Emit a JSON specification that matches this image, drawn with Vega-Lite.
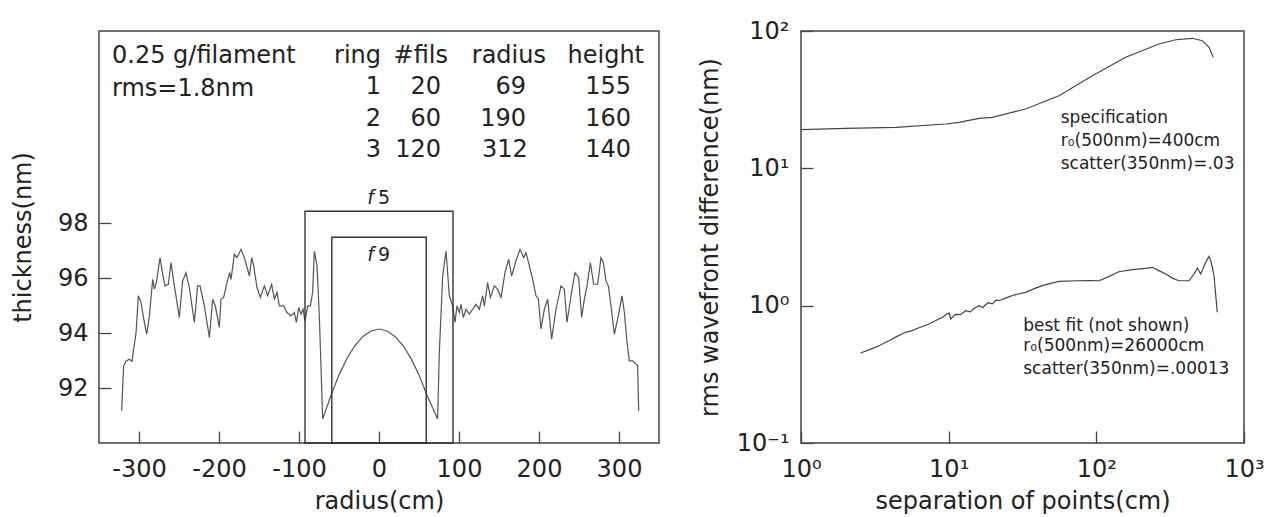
{
  "$schema": "https://vega.github.io/schema/vega-lite/v6.json",
  "background": "white",
  "padding": {"left": 10, "top": 18, "right": 5, "bottom": 5},
  "spacing": 37,
  "config": {
    "font": "DejaVu Sans",
    "view": {"stroke": "#444", "strokeWidth": 1.5},
    "axis": {
      "domain": false, "grid": false, "tickSize": -12, "tickColor": "#444", "tickWidth": 1.3,
      "labelFont": "DejaVu Sans", "labelFontSize": 24, "labelColor": "#222", "labelFlush": false, "labelOverlap": false,
      "titleFont": "DejaVu Sans", "titleFontSize": 24, "titleFontWeight": "normal", "titleColor": "#222"
    },
    "axisX": {"labelPadding": 26, "titlePadding": 8},
    "axisY": {"labelPadding": 23, "titlePadding": 22}
  },
  "hconcat": [
    {
      "width": 560,
      "height": 412,
      "layer": [
        {
          "data": {"values": [
            {"x":-321.7,"y":91.17},{"x":-319.2,"y":92.81},{"x":-316,"y":92.99},{"x":-312,"y":93.05},{"x":-308.7,"y":92.97},{"x":-306.7,"y":93.42},{"x":-303.7,"y":94.02},{"x":-300.8,"y":95.36},{"x":-297.5,"y":95.12},{"x":-294,"y":94.5},{"x":-290.4,"y":93.96},{"x":-287,"y":94.63},{"x":-282.9,"y":95.96},{"x":-280.8,"y":95.6},{"x":-278.3,"y":95.84},{"x":-273.7,"y":96.75},{"x":-270.4,"y":96.15},{"x":-267.5,"y":95.72},{"x":-263.3,"y":95.78},{"x":-260,"y":96.57},{"x":-255.8,"y":95.72},{"x":-249.6,"y":94.57},{"x":-245.4,"y":95.9},{"x":-241.3,"y":96.2},{"x":-237.1,"y":95.66},{"x":-230.8,"y":94.39},{"x":-226.7,"y":95.72},{"x":-223.7,"y":95.72},{"x":-218.3,"y":94.99},{"x":-212,"y":93.84},{"x":-207.9,"y":95.24},{"x":-204.6,"y":94.99},{"x":-199.6,"y":94.21},{"x":-197.5,"y":95.24},{"x":-194.2,"y":95.3},{"x":-190,"y":95.84},{"x":-186.7,"y":96.2},{"x":-185,"y":95.96},{"x":-180.8,"y":96.87},{"x":-177.5,"y":96.75},{"x":-172.5,"y":97.05},{"x":-168.3,"y":96.75},{"x":-162,"y":96.08},{"x":-159.1,"y":96.75},{"x":-156.6,"y":96.45},{"x":-152.5,"y":95.66},{"x":-148.3,"y":95.3},{"x":-143.3,"y":95.72},{"x":-139.2,"y":95.36},{"x":-134.2,"y":95.78},{"x":-130.8,"y":95.24},{"x":-127.5,"y":95.48},{"x":-124.6,"y":94.99},{"x":-119.2,"y":94.99},{"x":-115,"y":94.75},{"x":-110,"y":94.63},{"x":-105.8,"y":94.75},{"x":-103.3,"y":94.39},{"x":-100.4,"y":94.93},{"x":-97.5,"y":94.69},{"x":-95,"y":94.87},{"x":-92.5,"y":94.45},{"x":-89.2,"y":94.99},{"x":-85.8,"y":94.99},{"x":-83,"y":95.48},{"x":-80.8,"y":96.99},{"x":-77.5,"y":96.45},{"x":-74.6,"y":94.63},{"x":-70.4,"y":90.87},{"x":-60,"y":91.74},{"x":-50,"y":92.48},{"x":-40,"y":93.08},{"x":-30,"y":93.55},{"x":-20,"y":93.88},{"x":-10,"y":94.08},{"x":0,"y":94.15},{"x":10,"y":94.08},{"x":20,"y":93.88},{"x":30,"y":93.55},{"x":40,"y":93.08},{"x":50,"y":92.48},{"x":60,"y":91.74},{"x":73.3,"y":90.87},{"x":75.4,"y":93.3},{"x":79.6,"y":96.08},{"x":83.75,"y":96.99},{"x":87.9,"y":95.36},{"x":92.1,"y":94.99},{"x":95,"y":94.39},{"x":97.5,"y":94.99},{"x":100.4,"y":94.75},{"x":102.5,"y":95.05},{"x":105.4,"y":94.57},{"x":108.75,"y":94.87},{"x":112.9,"y":94.69},{"x":117.1,"y":94.87},{"x":121.25,"y":95.05},{"x":125.4,"y":94.87},{"x":129.6,"y":95.36},{"x":131.7,"y":94.99},{"x":135.8,"y":95.84},{"x":139.2,"y":95.3},{"x":144.2,"y":95.72},{"x":148.3,"y":95.6},{"x":152.5,"y":95.3},{"x":157.5,"y":96.2},{"x":162.1,"y":96.69},{"x":165.8,"y":96.08},{"x":171.25,"y":96.63},{"x":176.25,"y":97.05},{"x":180.8,"y":96.75},{"x":183.75,"y":96.93},{"x":187.9,"y":96.45},{"x":192.1,"y":95.96},{"x":196.25,"y":95.36},{"x":199.2,"y":95.24},{"x":202.5,"y":94.15},{"x":206.7,"y":94.87},{"x":210.8,"y":95.24},{"x":215.8,"y":93.78},{"x":221.25,"y":94.87},{"x":227.5,"y":95.72},{"x":231.7,"y":95.6},{"x":235,"y":94.39},{"x":240,"y":95.36},{"x":245,"y":96.2},{"x":249.6,"y":96.02},{"x":253.3,"y":94.57},{"x":256.7,"y":95.24},{"x":260,"y":95.72},{"x":264.2,"y":96.57},{"x":268.3,"y":95.78},{"x":273.3,"y":95.78},{"x":277.5,"y":96.75},{"x":280.4,"y":96.57},{"x":283.75,"y":95.9},{"x":286.7,"y":95.72},{"x":290,"y":94.99},{"x":294.2,"y":93.96},{"x":298.3,"y":94.5},{"x":303.75,"y":95.36},{"x":306.7,"y":94.75},{"x":310,"y":93.66},{"x":312.9,"y":92.99},{"x":317.1,"y":92.99},{"x":321.25,"y":92.87},{"x":323.3,"y":92.81},{"x":324.6,"y":91.17}
          ]},
          "mark": {"type": "line", "color": "#555", "strokeWidth": 1.2},
          "encoding": {
            "x": {"field": "x", "type": "quantitative", "scale": {"domain": [-350, 350], "nice": false, "zero": false},
                  "axis": {"values": [-300, -200, -100, 0, 100, 200, 300],
                           "labelExpr": "(datum.value < 0 ? '-' : '') + abs(datum.value)"}, "title": "radius(cm)"},
            "y": {"field": "y", "type": "quantitative", "scale": {"domain": [90, 105], "nice": false, "zero": false},
                  "axis": {"values": [92, 94, 96, 98]}, "title": "thickness(nm)"}
          }
        },
        {
          "data": {"values": [
            {"x": -92.5, "x2": 92.5, "y": 90, "y2": 98.44},
            {"x": -59, "x2": 59, "y": 90, "y2": 97.49}
          ]},
          "mark": {"type": "rect", "fill": null, "fillOpacity": 0, "stroke": "#333", "strokeWidth": 1.4},
          "encoding": {
            "x": {"field": "x", "type": "quantitative", "title": "radius(cm)"},
            "x2": {"field": "x2"},
            "y": {"field": "y", "type": "quantitative", "title": "thickness(nm)"},
            "y2": {"field": "y2"}
          }
        },
        {
          "data": {"values": [
            {"x": -333.75, "y": 103.82, "label": "0.25 g/filament"},
            {"x": -333.75, "y": 102.63, "label": "rms=1.8nm"}
          ]},
          "mark": {"type": "text", "align": "left", "baseline": "alphabetic", "fontSize": 24, "color": "#222"},
          "encoding": {
            "x": {"field": "x", "type": "quantitative", "title": "radius(cm)"},
            "y": {"field": "y", "type": "quantitative", "title": "thickness(nm)"},
            "text": {"field": "label"}
          }
        },
        {
          "data": {"values": [
            {"x": 2.5, "y": 103.84, "label": "ring"},
            {"x": 86.25, "y": 103.84, "label": "#fils"},
            {"x": 208.75, "y": 103.84, "label": "radius"},
            {"x": 331.25, "y": 103.84, "label": "height"},
            {"x": 2.5, "y": 102.69, "label": "1"},
            {"x": 77.5, "y": 102.69, "label": "20"},
            {"x": 183.75, "y": 102.69, "label": "69"},
            {"x": 315, "y": 102.69, "label": "155"},
            {"x": 2.5, "y": 101.54, "label": "2"},
            {"x": 77.5, "y": 101.54, "label": "60"},
            {"x": 183.75, "y": 101.54, "label": "190"},
            {"x": 315, "y": 101.54, "label": "160"},
            {"x": 2.5, "y": 100.43, "label": "3"},
            {"x": 77.5, "y": 100.43, "label": "120"},
            {"x": 186, "y": 100.43, "label": "312"},
            {"x": 315, "y": 100.43, "label": "140"}
          ]},
          "mark": {"type": "text", "align": "right", "baseline": "alphabetic", "fontSize": 24, "color": "#222"},
          "encoding": {
            "x": {"field": "x", "type": "quantitative", "title": "radius(cm)"},
            "y": {"field": "y", "type": "quantitative", "title": "thickness(nm)"},
            "text": {"field": "label"}
          }
        },
        {
          "data": {"values": [
            {"x": -6.25, "y": 98.69, "label": "f"},
            {"x": -6.25, "y": 96.63, "label": "f"}
          ]},
          "mark": {"type": "text", "align": "right", "baseline": "alphabetic", "fontSize": 19, "fontStyle": "italic", "color": "#222"},
          "encoding": {
            "x": {"field": "x", "type": "quantitative", "title": "radius(cm)"},
            "y": {"field": "y", "type": "quantitative", "title": "thickness(nm)"},
            "text": {"field": "label"}
          }
        },
        {
          "data": {"values": [
            {"x": -1.25, "y": 98.69, "label": "5"},
            {"x": -1.25, "y": 96.63, "label": "9"}
          ]},
          "mark": {"type": "text", "align": "left", "baseline": "alphabetic", "fontSize": 19, "color": "#222"},
          "encoding": {
            "x": {"field": "x", "type": "quantitative", "title": "radius(cm)"},
            "y": {"field": "y", "type": "quantitative", "title": "thickness(nm)"},
            "text": {"field": "label"}
          }
        }
      ]
    },
    {
      "width": 443,
      "height": 412,
      "layer": [
        {
          "data": {"values": [
            {"series": "specification", "x": 1, "y": 19.11},
            {"series": "specification", "x": 2.008, "y": 19.57},
            {"series": "specification", "x": 4.378, "y": 19.9},
            {"series": "specification", "x": 9.55, "y": 21.03},
            {"series": "specification", "x": 11.75, "y": 21.64},
            {"series": "specification", "x": 16.05, "y": 23.14},
            {"series": "specification", "x": 19.75, "y": 23.53},
            {"series": "specification", "x": 33.23, "y": 27.04},
            {"series": "specification", "x": 55.86, "y": 33.8},
            {"series": "specification", "x": 93.9, "y": 47.3},
            {"series": "specification", "x": 158.1, "y": 64.4},
            {"series": "specification", "x": 265.7, "y": 80.4},
            {"series": "specification", "x": 344.6, "y": 86.4},
            {"series": "specification", "x": 446.4, "y": 88.5},
            {"series": "specification", "x": 521.8, "y": 85.0},
            {"series": "specification", "x": 579.3, "y": 76.1},
            {"series": "specification", "x": 619.5, "y": 64.4},
            {"series": "best fit", "x": 2.537, "y": 0.452},
            {"series": "best fit", "x": 3.0, "y": 0.485},
            {"series": "best fit", "x": 3.375, "y": 0.511},
            {"series": "best fit", "x": 4.0, "y": 0.56},
            {"series": "best fit", "x": 4.5, "y": 0.6},
            {"series": "best fit", "x": 5.117, "y": 0.64},
            {"series": "best fit", "x": 5.6, "y": 0.655},
            {"series": "best fit", "x": 6.3, "y": 0.69},
            {"series": "best fit", "x": 7.36, "y": 0.735},
            {"series": "best fit", "x": 8.2, "y": 0.78},
            {"series": "best fit", "x": 9.2, "y": 0.83},
            {"series": "best fit", "x": 9.79, "y": 0.875},
            {"series": "best fit", "x": 10.1, "y": 0.88},
            {"series": "best fit", "x": 10.32, "y": 0.8},
            {"series": "best fit", "x": 10.8, "y": 0.84},
            {"series": "best fit", "x": 11.16, "y": 0.865},
            {"series": "best fit", "x": 12.0, "y": 0.86},
            {"series": "best fit", "x": 13.04, "y": 0.919},
            {"series": "best fit", "x": 14.0, "y": 0.9},
            {"series": "best fit", "x": 15.0, "y": 0.96},
            {"series": "best fit", "x": 16.05, "y": 1.0},
            {"series": "best fit", "x": 17.0, "y": 0.97},
            {"series": "best fit", "x": 18.5, "y": 1.05},
            {"series": "best fit", "x": 19.75, "y": 1.03},
            {"series": "best fit", "x": 21.0, "y": 1.1},
            {"series": "best fit", "x": 21.92, "y": 1.087},
            {"series": "best fit", "x": 25.0, "y": 1.15},
            {"series": "best fit", "x": 28.0, "y": 1.2},
            {"series": "best fit", "x": 33.23, "y": 1.251},
            {"series": "best fit", "x": 38.0, "y": 1.33},
            {"series": "best fit", "x": 43.05, "y": 1.398},
            {"series": "best fit", "x": 50.0, "y": 1.46},
            {"series": "best fit", "x": 55.86, "y": 1.504},
            {"series": "best fit", "x": 72.46, "y": 1.519},
            {"series": "best fit", "x": 90.0, "y": 1.52},
            {"series": "best fit", "x": 104.2, "y": 1.519},
            {"series": "best fit", "x": 120.0, "y": 1.62},
            {"series": "best fit", "x": 142.3, "y": 1.767},
            {"series": "best fit", "x": 175.2, "y": 1.828},
            {"series": "best fit", "x": 215.9, "y": 1.871},
            {"series": "best fit", "x": 239.3, "y": 1.902},
            {"series": "best fit", "x": 265.0, "y": 1.8},
            {"series": "best fit", "x": 294.9, "y": 1.701},
            {"series": "best fit", "x": 330.0, "y": 1.58},
            {"series": "best fit", "x": 362.8, "y": 1.519},
            {"series": "best fit", "x": 424.1, "y": 1.519},
            {"series": "best fit", "x": 458.5, "y": 1.701},
            {"series": "best fit", "x": 482.7, "y": 1.871},
            {"series": "best fit", "x": 508.9, "y": 1.701},
            {"series": "best fit", "x": 550.3, "y": 2.07},
            {"series": "best fit", "x": 579.3, "y": 2.288},
            {"series": "best fit", "x": 600.3, "y": 2.07},
            {"series": "best fit", "x": 626.2, "y": 1.652},
            {"series": "best fit", "x": 659.2, "y": 0.895}
          ]},
          "mark": {"type": "line", "color": "#444", "strokeWidth": 1.2},
          "encoding": {
            "detail": {"field": "series"},
            "x": {"field": "x", "type": "quantitative", "scale": {"type": "log", "domain": [1, 1000], "nice": false},
                  "axis": {"values": [1, 10, 100, 1000],
                           "labelExpr": "datum.value >= 999 ? '10³' : datum.value >= 99 ? '10²' : datum.value >= 9.9 ? '10¹' : datum.value >= 0.99 ? '10⁰' : '10⁻¹'"},
                  "title": "separation of points(cm)"},
            "y": {"field": "y", "type": "quantitative", "scale": {"type": "log", "domain": [0.1, 100], "nice": false},
                  "axis": {"values": [0.1, 1, 10, 100], "labelPadding": 24, "titlePadding": 14,
                           "labelExpr": "datum.value >= 99 ? '10²' : datum.value >= 9.9 ? '10¹' : datum.value >= 0.99 ? '10⁰' : '10⁻¹'"},
                  "title": "rms wavefront difference(nm)"}
          }
        },
        {
          "data": {"values": [
            {"x": 57.4, "y": 21.4, "label": "specification"},
            {"x": 57.4, "y": 14.54, "label": "r₀(500nm)=400cm"},
            {"x": 57.4, "y": 9.89, "label": "scatter(350nm)=.03"},
            {"x": 32.0, "y": 0.657, "label": "best fit (not shown)"},
            {"x": 32.0, "y": 0.47, "label": "r₀(500nm)=26000cm"},
            {"x": 32.0, "y": 0.318, "label": "scatter(350nm)=.00013"}
          ]},
          "mark": {"type": "text", "align": "left", "baseline": "alphabetic", "fontSize": 17, "color": "#222"},
          "encoding": {
            "x": {"field": "x", "type": "quantitative", "title": "separation of points(cm)"},
            "y": {"field": "y", "type": "quantitative", "title": "rms wavefront difference(nm)"},
            "text": {"field": "label"}
          }
        }
      ]
    }
  ]
}
